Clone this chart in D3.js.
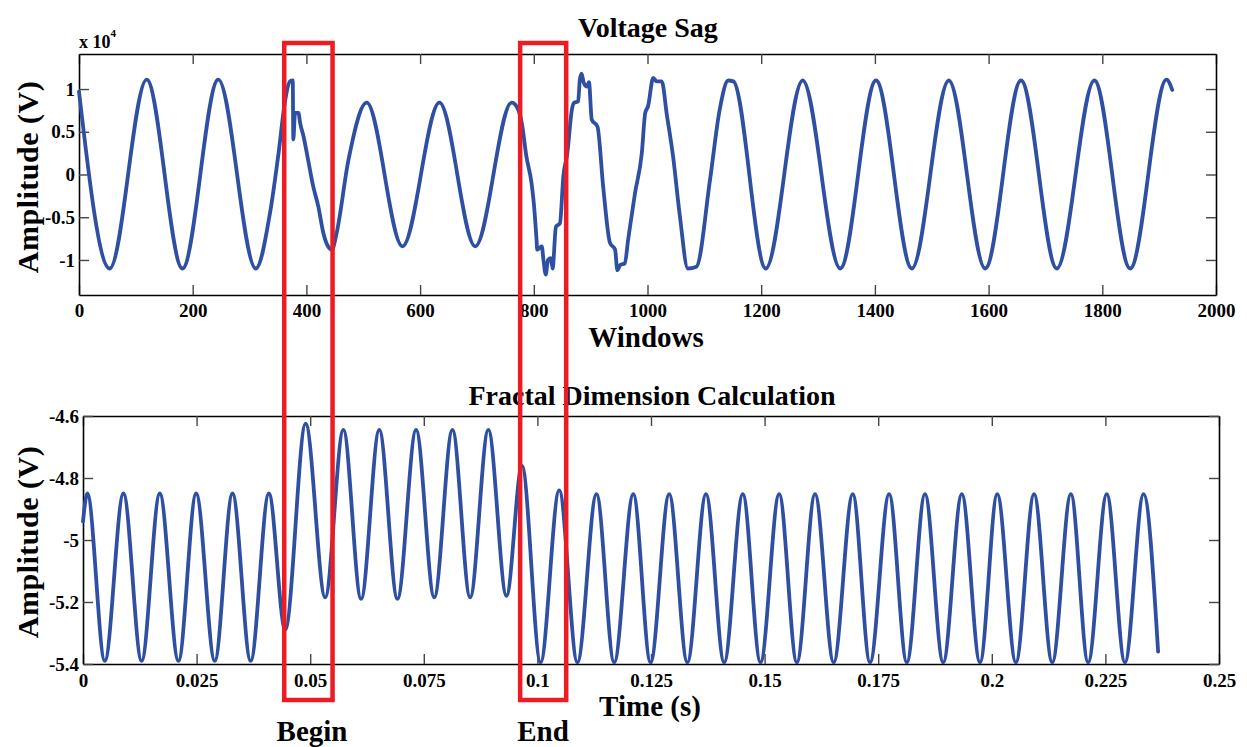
<!DOCTYPE html>
<html><head><meta charset="utf-8">
<script src="https://cdn.jsdelivr.net/npm/d3@7"></script>
<style>
body{margin:0;background:#fff}
text{font-family:"Liberation Serif","Times New Roman",serif;font-weight:bold;fill:#000}
</style>
</head><body><svg id="c" width="1247" height="747"></svg>
<script>
// ---- Voltage sag (top) : window index vs amplitude (x10^4 V)
const sagWindows = [0,54,119,182,245,311,336,351,362,371,376,377,380,386,389,395,403,412,421,430,438,445,453,474,506,569,634,697,761,767,779,787,796,800,805,806,814,817,821,825,830,833,839,846,852,859,867,871,878,881,884,888,893,897,902,912,922,934,943,947,952,960,966,978,990,996,1001,1010,1016,1025,1034,1045,1057,1071,1086,1110,1127,1142,1151,1208,1273,1339,1402,1465,1530,1594,1657,1720,1786,1849,1913,1923];
const sagValues  = [0.97,-1.10,1.11,-1.10,1.11,-1.10,-0.45,0.25,0.84,1.09,1.10,0.41,0.72,0.72,0.60,0.445,0.17,-0.14,-0.375,-0.69,-0.84,-0.88,-0.69,0.17,0.84,-0.84,0.84,-0.84,0.84,0.82,0.60,0.21,-0.10,-0.335,-0.78,-0.88,-0.84,-1.00,-1.17,-1.00,-0.98,-1.10,-0.61,-0.57,-0.02,0.25,0.76,0.84,0.855,1.11,1.18,1.07,1.03,1.08,0.64,0.56,-0.14,-0.80,-0.88,-1.12,-1.06,-1.04,-0.76,-0.22,0.25,0.72,0.80,1.13,1.09,1.09,0.70,0.21,-0.49,-1.10,-1.08,-0.06,0.76,1.10,1.09,-1.10,1.10,-1.10,1.10,-1.10,1.10,-1.10,1.10,-1.10,1.10,-1.10,1.11,0.99];

// ---- Fractal dimension (bottom) : time (s) vs amplitude (V)
const fdTime  = [0,0.00095,0.0048,0.0089,0.0129,0.0169,0.0210,0.0249,0.0290,0.0329,0.0369,0.0409,0.0445,0.0490,0.0533,0.0573,0.0612,0.0652,0.0692,0.0733,0.0773,0.0813,0.0852,0.0892,0.0932,0.0966,0.1007,0.1048,0.1088,0.1130,0.1169,0.1211,0.1249,0.1290,0.1330,0.1371,0.1411,0.1452,0.1491,0.1532,0.1571,0.1611,0.1652,0.1694,0.1732,0.1774,0.1813,0.1853,0.1893,0.1934,0.1974,0.2012,0.2053,0.2093,0.2133,0.2174,0.2212,0.2253,0.2293,0.2334,0.2366];
const fdValue = [-4.94,-4.85,-5.39,-4.85,-5.39,-4.85,-5.39,-4.85,-5.39,-4.85,-5.39,-4.85,-5.29,-4.625,-5.185,-4.645,-5.19,-4.645,-5.19,-4.645,-5.185,-4.645,-5.185,-4.645,-5.18,-4.76,-5.395,-4.84,-5.395,-4.852,-5.395,-4.852,-5.395,-4.852,-5.395,-4.852,-5.395,-4.852,-5.395,-4.852,-5.395,-4.852,-5.395,-4.852,-5.395,-4.852,-5.395,-4.852,-5.395,-4.852,-5.395,-4.852,-5.395,-4.852,-5.395,-4.852,-5.395,-4.852,-5.395,-4.852,-5.36];

// ---- ticks / labels
const sagTicksX = [0,200,400,600,800,1000,1200,1400,1600,1800,2000];
const sagTicksY = [-1,-0.5,0,0.5,1];
const fdTicksX = [0,0.025,0.05,0.075,0.1,0.125,0.15,0.175,0.2,0.225,0.25];
const fdTicksY = [-5.4,-5.2,-5,-4.8,-4.6];
const titles = ["Voltage Sag","Fractal Dimension Calculation"];
const xLabels = ["Windows","Time (s)"];
const yLabel = "Amplitude (V)";
const eventLabels = ["Begin","End"];
const eventWindows = [[361,446],[776,857]];

const svg = d3.select("#c");
const blue = "#2f4fa3", red = "#ec1c24";

const xTop = d3.scaleLinear().domain([0,2000]).range([79,1216]);
const yTop = d3.scaleLinear().domain([-1.41,1.41]).range([295,54]);
const xBot = d3.scaleLinear().domain([0,0.25]).range([83,1219]);
const yBot = d3.scaleLinear().domain([-5.4,-4.6]).range([664,416]);

function styleAxis(g){
  g.select(".domain").attr("stroke","#000").attr("stroke-width",1.6);
  g.selectAll(".tick line").attr("stroke","#444").attr("stroke-width",1.4);
  g.selectAll(".tick text").style("font-size","19px").style("font-family",'"Liberation Serif",serif').style("font-weight","bold").attr("fill","#000");
}
function frame(x,y,xt,yt,fmtX,padX){
  const [x0,x1]=x.range(), [y0,y1]=y.range();
  svg.append("g").attr("transform",`translate(0,${y0})`)
    .call(d3.axisBottom(x).tickValues(xt).tickFormat(fmtX).tickSizeInner(-10).tickSizeOuter(0).tickPadding(padX)).call(styleAxis);
  svg.append("g").attr("transform",`translate(0,${y1})`)
    .call(d3.axisTop(x).tickValues(xt).tickFormat("").tickSizeInner(-10).tickSizeOuter(0)).call(styleAxis);
  svg.append("g").attr("transform",`translate(${x0},0)`)
    .call(d3.axisLeft(y).tickValues(yt).tickFormat(d=>String(d)).tickSizeInner(-10).tickSizeOuter(0).tickPadding(4)).call(styleAxis);
  svg.append("g").attr("transform",`translate(${x1},0)`)
    .call(d3.axisRight(y).tickValues(yt).tickFormat("").tickSizeInner(-10).tickSizeOuter(0)).call(styleAxis);
}

frame(xTop,yTop,sagTicksX,sagTicksY,d=>String(d),9);
frame(xBot,yBot,fdTicksX,fdTicksY,d=>String(d),10);

// lines
const topLine = d3.line().x((d,i)=>xTop(sagWindows[i])).y(d=>yTop(d)).curve(d3.curveMonotoneX);
svg.append("path").attr("d",topLine(sagValues)).attr("fill","none").attr("stroke",blue).attr("stroke-width",3.8).attr("stroke-linejoin","round").attr("stroke-linecap","round");
const botLine = d3.line().x((d,i)=>xBot(fdTime[i])).y(d=>yBot(d)).curve(d3.curveMonotoneX);
svg.append("path").attr("d",botLine(fdValue)).attr("fill","none").attr("stroke",blue).attr("stroke-width",3.8).attr("stroke-linejoin","round").attr("stroke-linecap","round");

// exponent
const ex = svg.append("text").attr("x",79).attr("y",48).style("font-size","18px");
ex.append("tspan").text("x 10");
ex.append("tspan").attr("dy",-11).style("font-size","11px").text("4");

// titles and labels
svg.append("text").attr("x",648).attr("y",37).attr("text-anchor","middle").style("font-size","28px").text(titles[0]);
svg.append("text").attr("x",652).attr("y",405).attr("text-anchor","middle").style("font-size","28px").text(titles[1]);
svg.append("text").attr("x",646).attr("y",347).attr("text-anchor","middle").style("font-size","29px").text(xLabels[0]);
svg.append("text").attr("x",650).attr("y",716).attr("text-anchor","middle").style("font-size","29px").text(xLabels[1]);
svg.append("text").attr("transform","translate(38,177) rotate(-90)").attr("text-anchor","middle").style("font-size","30px").style("letter-spacing","0.5px").text(yLabel);
svg.append("text").attr("transform","translate(38,542) rotate(-90)").attr("text-anchor","middle").style("font-size","30px").style("letter-spacing","0.5px").text(yLabel);

// event boxes
const boxTop = yTop(1.41) - 11, boxBot = yBot(-5.4) + 36;
eventWindows.forEach((w,i)=>{
  svg.append("rect").attr("x",xTop(w[0])).attr("y",boxTop).attr("width",xTop(w[1])-xTop(w[0])).attr("height",boxBot-boxTop)
    .attr("fill","none").attr("stroke",red).attr("stroke-width",4.5);
});
svg.append("text").attr("x",312).attr("y",741).attr("text-anchor","middle").style("font-size","29px").text(eventLabels[0]);
svg.append("text").attr("x",543).attr("y",741).attr("text-anchor","middle").style("font-size","29px").text(eventLabels[1]);
</script></body></html>
